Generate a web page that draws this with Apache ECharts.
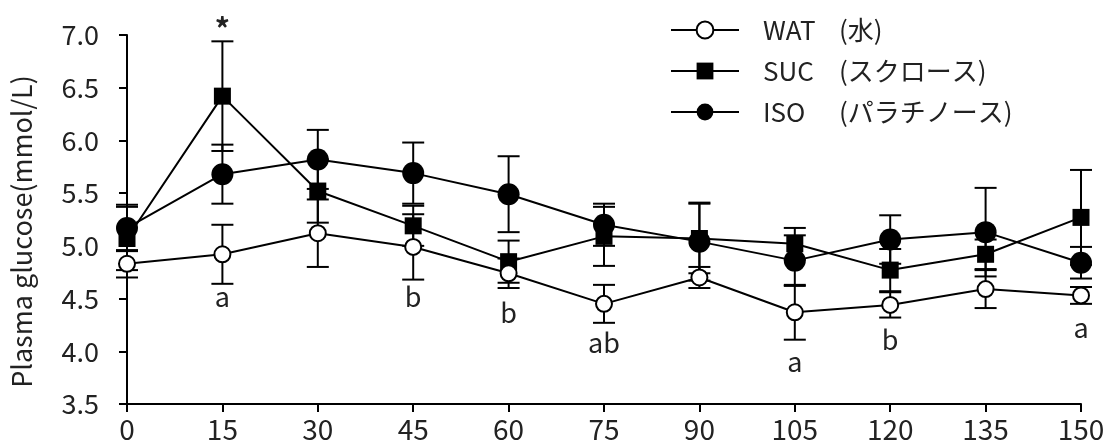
<!DOCTYPE html>
<html><head><meta charset="utf-8">
<script src="https://cdn.jsdelivr.net/npm/echarts@6/dist/echarts.min.js"></script>
<style>html,body{margin:0;padding:0;background:#fff}#c{width:1110px;height:447px}</style>
</head><body><div id="c"></div>
<script>
const times = [0, 15, 30, 45, 60, 75, 90, 105, 120, 135, 150];
const yTicks = [3.5, 4.0, 4.5, 5.0, 5.5, 6.0, 6.5, 7.0];
const wat    = [4.83, 4.92, 5.12, 4.99, 4.74, 4.45, 4.70, 4.37, 4.44, 4.59, 4.53];
const watErr = [0.13, 0.28, 0.32, 0.31, 0.14, 0.18, 0.10, 0.26, 0.12, 0.18, 0.08];
const suc    = [5.07, 6.42, 5.52, 5.19, 4.85, 5.09, 5.07, 5.02, 4.77, 4.92, 5.27];
const sucErr = [0.30, 0.52, 0.30, 0.19, 0.20, 0.28, 0.33, 0.15, 0.20, 0.14, 0.45];
const iso    = [5.17, 5.68, 5.82, 5.69, 5.49, 5.20, 5.04, 4.86, 5.06, 5.13, 4.84];
const isoErr = [0.22, 0.28, 0.28, 0.29, 0.36, 0.20, 0.37, 0.24, 0.23, 0.42, 0.15];
const legendCodes = ['WAT', 'SUC', 'ISO'];
const legendJa = ['(水)', '(スクロース)', '(パラチノース)'];
const sigX = [15, 15, 45, 60, 75, 105, 120, 150];
const sigY = [7.06, 4.515, 4.52, 4.37, 4.08, 3.90, 4.11, 4.22];
const sigText = ['*', 'a', 'b', 'b', 'ab', 'a', 'b', 'a'];

const FONT = "'Noto Sans CJK JP', 'Noto Sans', sans-serif";
const TXT = '#222';

function errData(vals, errs) {
  return times.map((t, i) => [t, vals[i] - errs[i], vals[i] + errs[i]]);
}
function errRender(params, api) {
  const x = api.value(0);
  const lo = api.coord([x, api.value(1)]);
  const hi = api.coord([x, api.value(2)]);
  const hw = 11;
  const st = { stroke: '#000', lineWidth: 2 };
  return { type: 'group', children: [
    { type: 'line', shape: { x1: lo[0], y1: lo[1], x2: hi[0], y2: hi[1] }, style: st },
    { type: 'line', shape: { x1: lo[0] - hw, y1: lo[1], x2: lo[0] + hw, y2: lo[1] }, style: st },
    { type: 'line', shape: { x1: hi[0] - hw, y1: hi[1], x2: hi[0] + hw, y2: hi[1] }, style: st }
  ]};
}
function pair(vals) { return times.map((t, i) => [t, vals[i]]); }

const lineCommon = { type: 'line', lineStyle: { color: '#000', width: 2 }, z: 3, animation: false };

const chart = echarts.init(document.getElementById('c'));
chart.setOption({
  animation: false,
  grid: { left: 125, right: 29, top: 35, bottom: 43 },
  legend: {
    orient: 'vertical', left: 665, top: 12,
    itemWidth: 68, itemHeight: 21, itemGap: 15,
    data: legendCodes,
    formatter: n => '{a|' + n + '}{b|' + legendJa[legendCodes.indexOf(n)] + '}',
    textStyle: {
      fontFamily: FONT, fontSize: 26, color: TXT,
      rich: {
        a: { fontFamily: FONT, fontSize: 26, color: TXT, width: 76, padding: [0, 0, 0, 19] },
        b: { fontFamily: FONT, fontSize: 26, color: TXT }
      }
    }
  },
  xAxis: {
    type: 'value', min: 0, max: 150, interval: 15,
    axisLine: { lineStyle: { color: '#000', width: 2 } },
    axisTick: { show: true, length: 8, lineStyle: { color: '#000', width: 2 } },
    axisLabel: { fontFamily: FONT, fontSize: 28, color: TXT, margin: 11 },
    splitLine: { show: false }
  },
  yAxis: {
    type: 'value', min: 3.5, max: 7.0, interval: 0.5,
    name: 'Plasma glucose(mmol/L)', nameLocation: 'middle', nameGap: 92,
    nameTextStyle: { fontFamily: FONT, fontSize: 27, color: TXT, padding: [0, 24, 0, 0] },
    axisLine: { show: true, lineStyle: { color: '#000', width: 2 } },
    axisTick: { show: true, length: 8, lineStyle: { color: '#000', width: 2 } },
    axisLabel: { fontFamily: FONT, fontSize: 27, color: TXT, margin: 28,
      formatter: v => yTicks.indexOf(Math.round(v * 10) / 10) >= 0 ? v.toFixed(1) : '' },
    splitLine: { show: false }
  },
  series: [
    { type: 'custom', renderItem: errRender, data: errData(wat, watErr), z: 1, silent: true },
    { type: 'custom', renderItem: errRender, data: errData(suc, sucErr), z: 1, silent: true },
    { type: 'custom', renderItem: errRender, data: errData(iso, isoErr), z: 1, silent: true },
    Object.assign({}, lineCommon, { name: 'SUC', data: pair(suc), symbol: 'rect', symbolSize: 17,
      itemStyle: { color: '#000', borderColor: '#000', borderWidth: 0 } }),
    Object.assign({}, lineCommon, { name: 'ISO', data: pair(iso), symbol: 'circle', symbolSize: 22,
      itemStyle: { color: '#000', borderColor: '#000', borderWidth: 0 } }),
    Object.assign({}, lineCommon, { name: 'WAT', data: pair(wat), symbol: 'circle', symbolSize: 16,
      itemStyle: { color: '#fff', borderColor: '#000', borderWidth: 2 } }),
    { type: 'custom', silent: true, z: 5,
      data: sigX.map((x, i) => [x, sigY[i], i]),
      renderItem: (params, api) => {
        const p = api.coord([api.value(0), api.value(1)]);
        const t = sigText[api.value(2)];
        const star = t === '*';
        return { type: 'text', x: p[0], y: p[1], style: {
          text: t, fontFamily: FONT, fontSize: star ? 30 : 27, fontWeight: star ? 'bold' : 'normal',
          fill: TXT, align: 'center', verticalAlign: 'middle' } };
      } }
  ]
});
</script></body></html>
